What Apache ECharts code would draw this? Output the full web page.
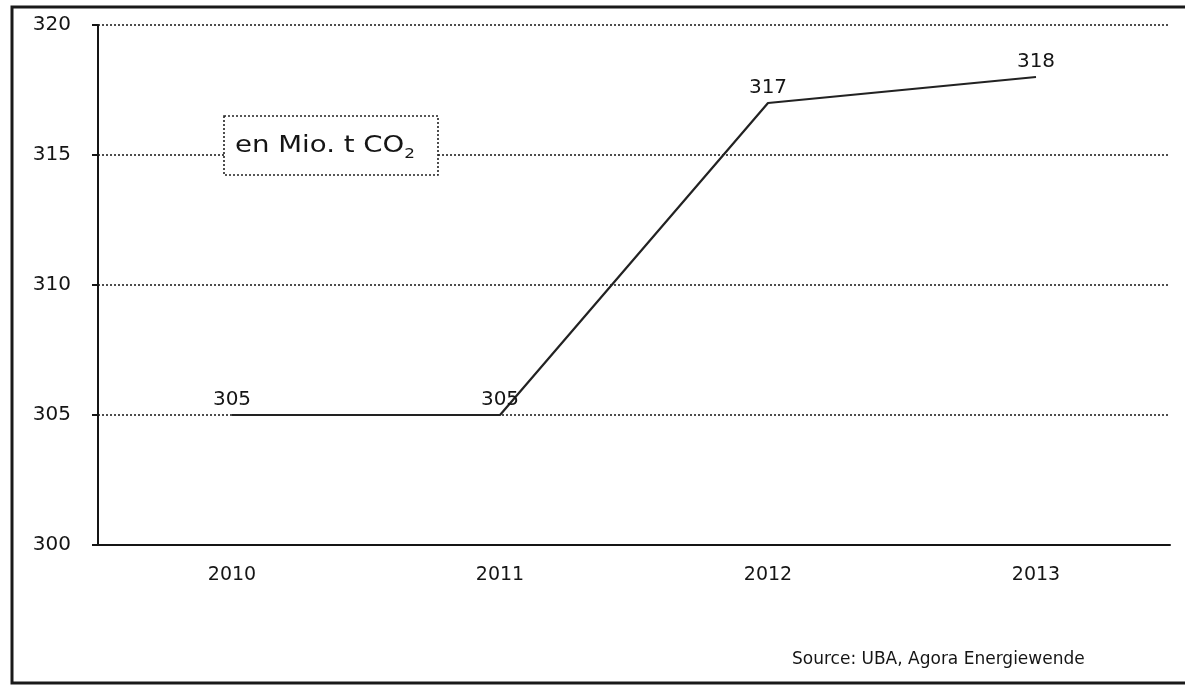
<!DOCTYPE html>
<html>
<head>
<meta charset="utf-8">
<script src="https://cdn.jsdelivr.net/npm/echarts@6/dist/echarts.min.js"></script>
<style>
  html, body { margin: 0; padding: 0; background: #fff; }
  #chart { width: 1185px; height: 689px; }
</style>
</head>
<body>
<div id="chart"></div>
<script>
// Annual CO2 emissions, million tonnes
const years = ['2010', '2011', '2012', '2013'];
const emissions = [305, 305, 317, 318];
const yTicks = [300, 305, 310, 315, 320];

const FONT = '"DejaVu Sans", Verdana, sans-serif';
const INK = '#151515';

const chart = echarts.init(document.getElementById('chart'), null, { renderer: 'canvas' });

chart.setOption({
  backgroundColor: '#ffffff',
  animation: false,
  grid: { left: 98, right: 15, top: 25, bottom: 144, containLabel: false },
  xAxis: {
    type: 'category',
    data: years,
    boundaryGap: true,
    axisLine: { show: true, lineStyle: { color: INK, width: 2 } },
    axisTick: { show: false },
    axisLabel: { color: INK, fontFamily: FONT, fontSize: 19, margin: 21 },
    splitLine: { show: false }
  },
  yAxis: {
    type: 'value',
    min: yTicks[0],
    max: yTicks[yTicks.length - 1],
    interval: yTicks[1] - yTicks[0],
    axisLine: { show: true, lineStyle: { color: INK, width: 2 } },
    axisTick: { show: true, length: 6, lineStyle: { color: INK, width: 2 } },
    axisLabel: { color: INK, fontFamily: FONT, fontSize: 20, margin: 27 },
    splitLine: { show: true, lineStyle: { color: '#222', width: 1.6, type: [2, 2] } }
  },
  series: [{
    type: 'line',
    data: emissions,
    symbol: 'circle',
    symbolSize: 1,
    showSymbol: true,
    itemStyle: { color: 'rgba(0,0,0,0)' },
    lineStyle: { color: '#222', width: 2.2 },
    label: {
      show: true,
      position: 'top',
      distance: 5,
      color: INK,
      fontFamily: FONT,
      fontSize: 20
    },
    z: 5
  }],
  graphic: [
    {
      // outer frame
      type: 'rect',
      shape: { x: 12, y: 7, width: 1190, height: 676 },
      style: { fill: 'none', stroke: '#1a1a1a', lineWidth: 3 },
      silent: true
    },
    {
      // unit box
      type: 'rect',
      shape: { x: 224, y: 116, width: 214, height: 59 },
      style: { fill: '#ffffff', stroke: '#222', lineWidth: 1.6, lineDash: [2, 2] },
      z: 10
    },
    {
      type: 'text',
      x: 235,
      y: 146,
      scaleX: 1.2,
      style: {
        text: '{m|en Mio. t CO}{s|2}',
        verticalAlign: 'middle',
        rich: {
          m: { fontFamily: FONT, fontSize: 23, fill: INK },
          s: { fontFamily: FONT, fontSize: 14, fill: INK, padding: [16, 0, 0, 0] }
        }
      },
      z: 11
    },
    {
      type: 'text',
      x: 792,
      y: 660,
      style: {
        text: 'Source: UBA, Agora Energiewende',
        fontFamily: FONT,
        fontSize: 17,
        fill: INK,
        verticalAlign: 'middle'
      }
    }
  ]
});
</script>
</body>
</html>
